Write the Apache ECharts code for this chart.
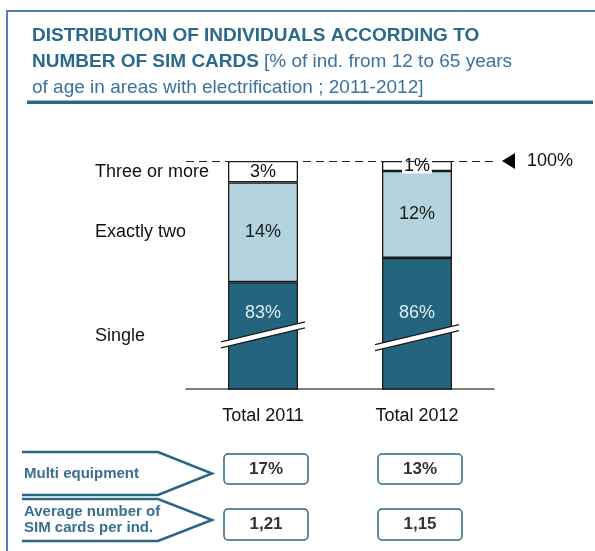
<!DOCTYPE html>
<html><head><meta charset="utf-8">
<script src="https://cdn.jsdelivr.net/npm/echarts@6/dist/echarts.min.js"></script>
<style>html,body{margin:0;padding:0;background:#fff}#c{width:595px;height:551px}</style>
</head><body><div id="c"></div>
<script>
// ---- data ----
const categories = ['Total 2011', 'Total 2012'];
const seriesNames = ['Single', 'Exactly two', 'Three or more'];
const single = [83, 86.4];
const exactlyTwo = [14, 12.2];
const threeOrMore = [3, 1.4];
const breakAt = [75.6, 75.2];
const multiEquipment = ['17%', '13%'];
const avgSimCards = ['1,21', '1,15'];
const refLabel = '100%';
const rowLabels = ['Multi equipment', 'Average number of\nSIM cards per ind.'];
const axisMin = 68, axisMax = 100;

// ---- styles ----
const FONT = '"Liberation Sans", Arial, sans-serif';
const DARK = '#24647f', LIGHT = '#b3d3de', EDGE = '#1b1b1b', NAVY = '#2a6685';
const singleLabelDist = [22, 46];

const pct = p => Math.round(p.value) + '%';
const chart = echarts.init(document.getElementById('c'), null, {renderer: 'canvas'});

const option = {
  animation: false,
  title: {
    left: 27, top: 18,
    text: '{b|DISTRIBUTION OF INDIVIDUALS ACCORDING TO}\n{b|NUMBER OF SIM CARDS} {n|[% of ind. from 12 to 65 years}\n{n|of age in areas with electrification ; 2011-2012]}',
    textStyle: {
      fontWeight: 'normal',
      rich: {
        b: {fontFamily: FONT, fontWeight: 'bold', fontSize: 19, color: '#2b6a8b', lineHeight: 26},
        n: {fontFamily: FONT, fontWeight: 'normal', fontSize: 19, color: '#3a72a0', lineHeight: 26}
      }
    }
  },
  grid: {left: 186, right: 101, top: 161, bottom: 162},
  xAxis: {
    type: 'category', data: categories,
    axisTick: {show: false},
    axisLine: {lineStyle: {color: '#555', width: 1.5}},
    axisLabel: {fontFamily: FONT, fontSize: 18, color: '#111', margin: 18}
  },
  yAxis: {type: 'value', min: axisMin, max: axisMax, show: false},
  series: [
    {
      name: seriesNames[0], type: 'bar', stack: 's', barWidth: 70,
      data: single.map((v, i) => ({value: v, label: {distance: singleLabelDist[i]}})),
      itemStyle: {color: DARK, borderColor: EDGE, borderWidth: 1.3},
      label: {show: true, position: 'insideTop', formatter: pct, color: '#dcebf2', fontFamily: FONT, fontSize: 18}
    },
    {
      name: seriesNames[1], type: 'bar', stack: 's', barWidth: 70,
      data: exactlyTwo,
      itemStyle: {color: LIGHT, borderColor: EDGE, borderWidth: 1.3},
      label: {show: true, position: 'inside', formatter: pct, color: '#1a1a1a', fontFamily: FONT, fontSize: 18}
    },
    {
      name: seriesNames[2], type: 'bar', stack: 's', barWidth: 70,
      data: threeOrMore,
      itemStyle: {color: '#fff', borderColor: EDGE, borderWidth: 1.3},
      label: {show: true, position: 'inside', formatter: pct, color: '#111', fontFamily: FONT, fontSize: 18,
              backgroundColor: '#fff', padding: [0, 2], lineHeight: 15},
      markLine: {
        silent: true, symbol: ['none', 'none'], label: {show: false},
        lineStyle: {type: [8, 5], color: '#222', width: 1},
        data: [{yAxis: axisMax}]
      }
    },
    {
      type: 'custom', z: 10, clip: false,
      data: breakAt.map((v, i) => [i, v]),
      renderItem: (params, api) => {
        const c = api.coord([api.value(0), api.value(1)]);
        const hw = 42, rise = 10, g = 3;
        const x0 = c[0] - hw, x1 = c[0] + hw;
        return {
          type: 'group',
          children: [
            {type: 'polygon', shape: {points: [[x0, c[1] + rise - g], [x1, c[1] - rise - g], [x1, c[1] - rise + g], [x0, c[1] + rise + g]]},
             style: {fill: '#fff'}},
            {type: 'line', shape: {x1: x0, y1: c[1] + rise - g, x2: x1, y2: c[1] - rise - g}, style: {stroke: EDGE, lineWidth: 1.3}},
            {type: 'line', shape: {x1: x0, y1: c[1] + rise + g, x2: x1, y2: c[1] - rise + g}, style: {stroke: EDGE, lineWidth: 1.3}}
          ]
        };
      }
    }
  ]
};
chart.setOption(option);

// ---- decorations depending on axes ----
const px = (i, v) => chart.convertToPixel({gridIndex: 0}, [i, v]);
const yTop = px(0, axisMax)[1];
const segMid = [
  (axisMin + single[0]) / 2,
  single[0] + exactlyTwo[0] / 2,
  single[0] + exactlyTwo[0] + threeOrMore[0] / 2
];
const g = [];
// frame
g.push({type: 'polyline', shape: {points: [[7, 551], [7, 11], [595, 11]]}, style: {stroke: '#4f81bd', lineWidth: 2, fill: null}});
g.push({type: 'rect', shape: {x: 27, y: 100.5, width: 566, height: 3.5}, style: {fill: NAVY}});
// 100% marker
g.push({type: 'polygon', shape: {points: [[502, yTop], [515, yTop - 8], [515, yTop + 8]]}, style: {fill: '#000'}});
g.push({type: 'text', x: 527, y: yTop, style: {text: refLabel, font: '18px ' + FONT, fill: '#111', textVerticalAlign: 'middle'}});
// series names
seriesNames.forEach((n, k) => {
  g.push({type: 'text', x: 95, y: px(0, segMid[k])[1], style: {text: n, font: '18px ' + FONT, fill: '#111', textVerticalAlign: 'middle'}});
});
// row arrows
const rows = [{top: 452, bot: 495}, {top: 499, bot: 541}];
rows.forEach((r, k) => {
  const mid = (r.top + r.bot) / 2;
  g.push({type: 'polyline', shape: {points: [[22, r.top], [158, r.top], [212, mid], [158, r.bot], [22, r.bot]]},
          style: {stroke: NAVY, lineWidth: 2.5, fill: null}});
  g.push({type: 'text', x: 24, y: mid, style: {text: rowLabels[k], font: 'bold 15px ' + FONT, fill: '#3a6f90',
          textVerticalAlign: 'middle', lineHeight: 16}});
});
// value boxes
const boxRows = [{vals: multiEquipment, top: 454, h: 30}, {vals: avgSimCards, top: 509, h: 31}];
boxRows.forEach(b => {
  b.vals.forEach((v, i) => {
    const cx = px(i, axisMax)[0] + 3;
    g.push({type: 'rect', shape: {x: cx - 42, y: b.top, width: 84, height: b.h, r: 4},
            style: {stroke: NAVY, lineWidth: 1.5, fill: '#fff'}});
    g.push({type: 'text', x: cx, y: b.top + b.h / 2, style: {text: v, font: 'bold 17px ' + FONT, fill: '#333',
            textAlign: 'center', textVerticalAlign: 'middle'}});
  });
});
chart.setOption({graphic: g});
</script>
</body></html>
